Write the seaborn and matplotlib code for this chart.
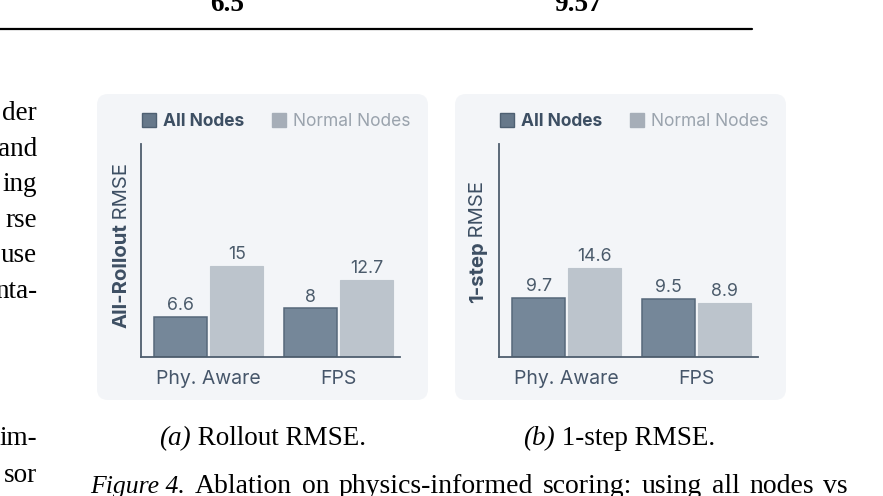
import matplotlib
matplotlib.use("Agg")
import matplotlib.pyplot as plt
import seaborn as sns
import pandas as pd
from matplotlib.patches import FancyBboxPatch
from matplotlib.lines import Line2D

# ---------------- data ----------------
methods = ["Phy. Aware", "FPS"]
node_sets = ["All Nodes", "Normal Nodes"]
rollout_all = [6.6, 8.0]
rollout_normal = [15.0, 12.7]
onestep_all = [9.7, 9.5]
onestep_normal = [14.6, 8.9]

table_values = ["6.5", "9.57"]
left_col_top = ["der", "and", "ing", "rse", "use", "nta-"]
left_col_bottom = ["im-", "sor"]
caption_words = ["Ablation", "on", "physics-informed", "scoring:", "using", "all", "nodes", "vs"]

# ---------------- style ----------------
W, H = 883, 496
sns.set_theme(style="white")
plt.rcParams["font.family"] = ["Inter", "DejaVu Sans"]

DARK = "#758799"
DARK_EDGE = "#56687a"
LIGHT = "#bcc4cc"
AXIS = "#4e5e6e"
TXT = "#3d4f63"
VAL = "#4b5b6b"
PANEL = "#f3f5f8"
SERIF = ["Liberation Serif", "DejaVu Serif"]
SFS = 19.5
CFS = 20.0
CFS_IT = 18.5

fig = plt.figure(figsize=(W / 100, H / 100), dpi=100)
fig.patch.set_facecolor("white")


def fx(x):
    return x / W


def fy(y):
    return 1 - y / H


def panel(x0, y0, x1, y1):
    p = FancyBboxPatch((x0 / 100, (H - y1) / 100), (x1 - x0) / 100, (y1 - y0) / 100,
                       boxstyle="round,pad=0,rounding_size=0.11",
                       transform=fig.dpi_scale_trans, facecolor=PANEL,
                       edgecolor="none", zorder=-1)
    fig.patches.append(p)
    p.set_figure(fig)


panel(97, 94, 428, 400)
panel(455, 94, 786, 400)


def make_panel(ax_rect, all_vals, normal_vals, ylab_bold, ylab_x, ylab_y, leg_x, ymax):
    ax = fig.add_axes(ax_rect)
    ax.patch.set_alpha(0)
    df = pd.DataFrame({
        "method": methods * 2,
        "nodes": [node_sets[0]] * len(methods) + [node_sets[1]] * len(methods),
        "value": list(all_vals) + list(normal_vals),
    })
    sns.barplot(data=df, x="method", y="value", hue="nodes", order=methods,
                hue_order=node_sets, palette=[DARK, LIGHT], saturation=1,
                width=0.86, gap=0.05, legend=False, ax=ax, errorbar=None)
    for bar in ax.containers[0]:
        bar.set_edgecolor(DARK_EDGE)
        bar.set_linewidth(1.1)
    for bar in ax.containers[1]:
        bar.set_edgecolor(LIGHT)
        bar.set_linewidth(0.8)
    for cont in ax.containers:
        ax.bar_label(cont, fmt="%g", padding=2, fontsize=12.8, color=VAL)
    ax.set_xlim(-0.52, 1.47)
    ax.set_ylim(0, ymax)
    ax.set_xlabel("")
    ax.set_ylabel("")
    ax.set_yticks([])
    ax.tick_params(axis="x", length=0, pad=9.5, labelsize=14, labelcolor="#46566a")
    for s in ["top", "right"]:
        ax.spines[s].set_visible(False)
    for s in ["left", "bottom"]:
        ax.spines[s].set_color(AXIS)
        ax.spines[s].set_linewidth(1.3)

    handles = [
        Line2D([], [], marker="s", linestyle="", markersize=10,
               markerfacecolor="#66788a", markeredgecolor="#4e6072", markeredgewidth=1.0),
        Line2D([], [], marker="s", linestyle="", markersize=10,
               markerfacecolor="#a6aeb8", markeredgecolor="#a6aeb8", markeredgewidth=1.0),
    ]
    leg = fig.legend(handles, node_sets, loc="center left",
                     bbox_to_anchor=(fx(leg_x), fy(121.5)), ncol=2, frameon=False,
                     borderpad=0, borderaxespad=0, handlelength=0.8,
                     handletextpad=0.42, columnspacing=1.6, fontsize=12.5)
    t0, t1 = leg.get_texts()
    t0.set_fontweight("bold")
    t0.set_color(TXT)
    t1.set_color("#9aa3ad")

    tb = fig.text(fx(ylab_x), fy(ylab_y), ylab_bold, rotation=90, rotation_mode="anchor",
                  ha="left", va="baseline", fontsize=14.6, fontweight="bold", color=TXT)
    return ax, tb


axL, tbL = make_panel([fx(141), fy(357), fx(400) - fx(141), fy(144) - fy(357)],
                      rollout_all, rollout_normal, "All-Rollout", 127, 328, 141.7, 35)
axR, tbR = make_panel([fx(499), fy(357), fx(758) - fx(499), fy(144) - fy(357)],
                      onestep_all, onestep_normal, "1-step", 483, 303, 499.7, 35)

# ---------------- page text ----------------
fig.text(fx(227), fy(11), table_values[0], ha="center", va="baseline",
         fontsize=SFS, fontweight="bold", family=SERIF, color="black")
fig.text(fx(578), fy(11), table_values[1], ha="center", va="baseline",
         fontsize=SFS, fontweight="bold", family=SERIF, color="black")
fig.add_artist(Line2D([0, fx(752)], [fy(29), fy(29)], color="black", linewidth=1.6,
                      transform=fig.transFigure))

for i, s in enumerate(left_col_top):
    fig.text(fx(37), fy(120 + i * 35.6), s, ha="right", va="baseline",
             fontsize=SFS, family=SERIF, color="black")
for i, s in enumerate(left_col_bottom):
    fig.text(fx(37), fy(445 + i * 36.5), s, ha="right", va="baseline",
             fontsize=SFS, family=SERIF, color="black")

capA = fig.text(fx(159), fy(445), "(a)", ha="left", va="baseline", fontsize=SFS,
                style="italic", family=SERIF, color="black")
capB = fig.text(fx(523), fy(445), "(b)", ha="left", va="baseline", fontsize=SFS,
                style="italic", family=SERIF, color="black")
capF = fig.text(fx(90), fy(493), "Figure 4.", ha="left", va="baseline", fontsize=CFS_IT,
                style="italic", family=SERIF, color="black")

fig.canvas.draw()
r = fig.canvas.get_renderer()

# continuation texts
for tb, x in [(tbL, 127), (tbR, 483)]:
    bb = tb.get_window_extent(r)
    fig.text(fx(x), bb.y1 / fig.bbox.height, "\u2009RMSE", rotation=90,
             rotation_mode="anchor", ha="left", va="baseline", fontsize=14.6,
             color=TXT, family=["Inter", "DejaVu Sans"])

for t, rest in [(capA, " Rollout RMSE."), (capB, " 1-step RMSE.")]:
    bb = t.get_window_extent(r)
    fig.text(bb.x1 / fig.bbox.width, t.get_position()[1], rest, ha="left",
             va="baseline", fontsize=SFS, family=SERIF, color="black")

# justified caption line
bbF = capF.get_window_extent(r)
word_texts = [fig.text(0, fy(493), w, ha="left", va="baseline", fontsize=CFS,
                       family=SERIF, color="black") for w in caption_words]
widths = [wt.get_window_extent(r).width for wt in word_texts]
start = max(bbF.x1 + 10, 193)
end = 848
gap = (end - start - sum(widths)) / (len(caption_words) - 1)
x = start
for wt, w in zip(word_texts, widths):
    wt.set_x(x / W)
    x += w + gap

fig.savefig("out.png", dpi=100, facecolor="white")
